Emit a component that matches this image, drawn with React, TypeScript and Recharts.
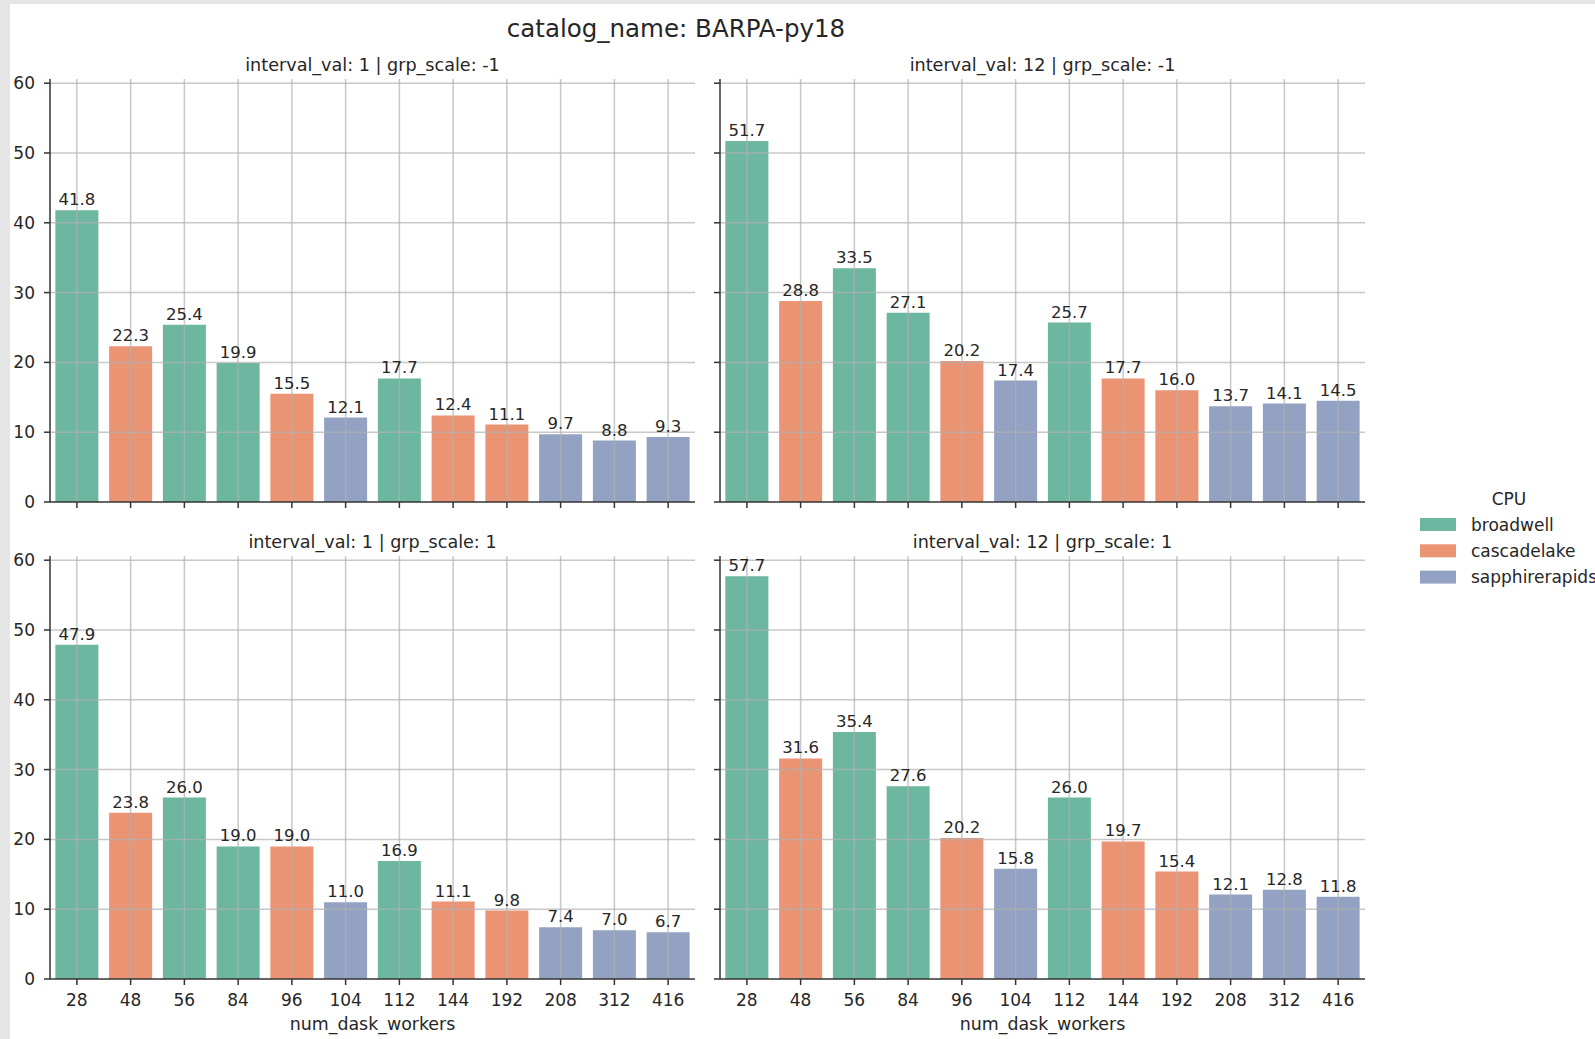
import { BarChart, Bar, XAxis, YAxis, ReferenceLine, Cell, LabelList } from 'recharts';

const workers = ['28', '48', '56', '84', '96', '104', '112', '144', '192', '208', '312', '416'];
const cpuOfWorker = [
  'broadwell', 'cascadelake', 'broadwell', 'broadwell', 'cascadelake', 'sapphirerapids',
  'broadwell', 'cascadelake', 'cascadelake', 'sapphirerapids', 'sapphirerapids', 'sapphirerapids',
];

// seconds per panel, same worker order as above
const iv1ScaleNeg = [41.8, 22.3, 25.4, 19.9, 15.5, 12.1, 17.7, 12.4, 11.1, 9.7, 8.8, 9.3];
const iv12ScaleNeg = [51.7, 28.8, 33.5, 27.1, 20.2, 17.4, 25.7, 17.7, 16.0, 13.7, 14.1, 14.5];
const iv1ScalePos = [47.9, 23.8, 26.0, 19.0, 19.0, 11.0, 16.9, 11.1, 9.8, 7.4, 7.0, 6.7];
const iv12ScalePos = [57.7, 31.6, 35.4, 27.6, 20.2, 15.8, 26.0, 19.7, 15.4, 12.1, 12.8, 11.8];

const yTicks = [0, 10, 20, 30, 40, 50, 60];
const cpus = ['broadwell', 'cascadelake', 'sapphirerapids'];

const cpuColors: Record<string, string> = {
  broadwell: '#6db6a0',
  cascadelake: '#ea9474',
  sapphirerapids: '#93a2c3',
};

const FONT = '"DejaVu Sans", sans-serif';
const PLOT_W = 645;
const PLOT_H = 423;
const Y_W = 45;
const TOP_M = 30;
const GRID = { stroke: '#b0b0b0', strokeOpacity: 0.7, strokeWidth: 1.5 };

interface PanelProps {
  values: number[];
  left: number;
  top: number;
  showX: boolean;
  showY: boolean;
}

function Panel({ values, left, top, showX, showY }: PanelProps) {
  const rows = workers.map((w, i) => ({ w, v: values[i], cpu: cpuOfWorker[i] }));
  const xh = showX ? 34 : 10;
  const axisColor = '#333333';
  return (
    <div style={{ position: 'absolute', left: left - Y_W, top: top - TOP_M }}>
      <BarChart
        width={Y_W + PLOT_W + 5}
        height={TOP_M + PLOT_H + xh}
        data={rows}
        margin={{ top: TOP_M, right: 5, left: 0, bottom: 0 }}
        barCategoryGap="10%"
      >
        <XAxis
          dataKey="w"
          height={xh}
          interval={0}
          tickSize={6}
          tickMargin={9}
          tick={{ fontSize: 17, fill: '#262626', fontFamily: FONT }}
          tickFormatter={(v) => (showX ? v : '')}
          axisLine={{ stroke: axisColor, strokeWidth: 1.5 }}
          tickLine={{ stroke: axisColor, strokeWidth: 1.5 }}
        />
        <YAxis
          width={Y_W}
          type="number"
          domain={[0, 60.6]}
          ticks={yTicks}
          interval={0}
          allowDataOverflow
          tickSize={6}
          tickMargin={9}
          tick={{ fontSize: 17, fill: '#262626', fontFamily: FONT }}
          tickFormatter={(v) => (showY ? String(v) : '')}
          axisLine={{ stroke: axisColor, strokeWidth: 1.5 }}
          tickLine={{ stroke: axisColor, strokeWidth: 1.5 }}
        />
        <Bar dataKey="v" isAnimationActive={false}>
          {rows.map((r, i) => (
            <Cell key={`c-${i}`} fill={cpuColors[r.cpu]} />
          ))}
          <LabelList
            dataKey="v"
            position="top"
            offset={5}
            formatter={(v: number) => v.toFixed(1)}
            style={{ fontSize: 16.5, fill: '#262626', fontFamily: FONT }}
          />
        </Bar>
        {workers.map((w) => (
          <ReferenceLine key={`gx-${w}`} x={w} {...GRID} />
        ))}
        {yTicks.slice(1).map((t) => (
          <ReferenceLine key={`gy-${t}`} y={t} {...GRID} />
        ))}
      </BarChart>
    </div>
  );
}

export default function App() {
  const leftX = 50;
  const rightX = 720;
  const topY = 79;
  const botY = 556;
  const leftC = leftX + PLOT_W / 2;
  const rightC = rightX + PLOT_W / 2;

  return (
    <div
      style={{
        position: 'absolute',
        left: 0,
        top: 0,
        width: 1595,
        height: 1039,
        background: '#e5e5e5',
        overflow: 'hidden',
        fontFamily: FONT,
      }}
    >
      <div style={{ position: 'absolute', left: 10, top: 4, width: 1585, height: 1035, background: '#ffffff' }} />

      <Panel values={iv1ScaleNeg} left={leftX} top={topY} showX={false} showY />
      <Panel values={iv12ScaleNeg} left={rightX} top={topY} showX={false} showY={false} />
      <Panel values={iv1ScalePos} left={leftX} top={botY} showX showY />
      <Panel values={iv12ScalePos} left={rightX} top={botY} showX showY={false} />

      <svg
        width={1595}
        height={1039}
        style={{ position: 'absolute', left: 0, top: 0, pointerEvents: 'none' }}
      >
        <g fontFamily={FONT} fill="#262626">
          <text x={676} y={37} fontSize={24.5} textAnchor="middle">catalog_name: BARPA-py18</text>

          <text x={leftC} y={70.5} fontSize={17.6} textAnchor="middle">interval_val: 1 | grp_scale: -1</text>
          <text x={rightC} y={70.5} fontSize={17.6} textAnchor="middle">interval_val: 12 | grp_scale: -1</text>
          <text x={leftC} y={547.5} fontSize={17.6} textAnchor="middle">interval_val: 1 | grp_scale: 1</text>
          <text x={rightC} y={547.5} fontSize={17.6} textAnchor="middle">interval_val: 12 | grp_scale: 1</text>

          <text x={leftC} y={1030} fontSize={17.4} textAnchor="middle">num_dask_workers</text>
          <text x={rightC} y={1030} fontSize={17.4} textAnchor="middle">num_dask_workers</text>

          <text x={1509} y={505} fontSize={17} textAnchor="middle">CPU</text>
          {cpus.map((c, i) => (
            <g key={c}>
              <rect x={1420} y={518 + i * 26.3} width={36} height={13} fill={cpuColors[c]} />
              <text x={1471} y={530.5 + i * 26.3} fontSize={17}>{c}</text>
            </g>
          ))}
        </g>
      </svg>
    </div>
  );
}
